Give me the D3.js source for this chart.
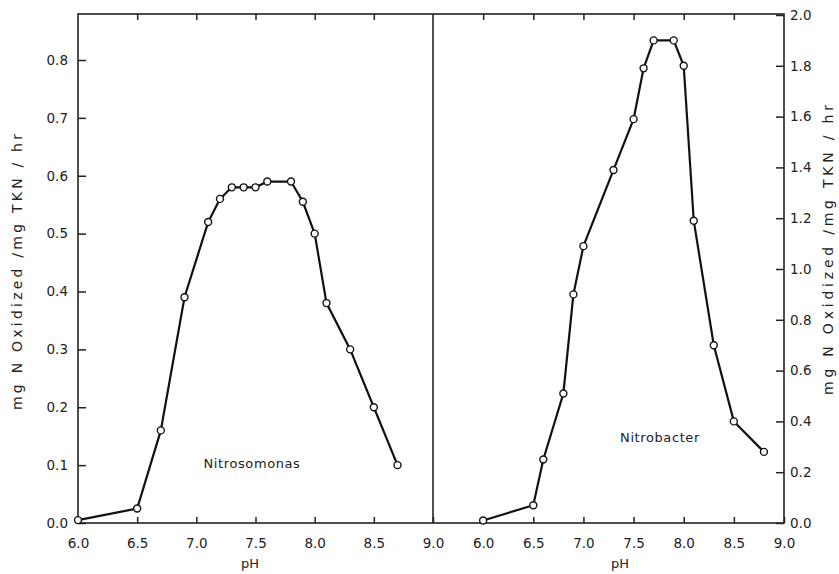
<!DOCTYPE html>
<html>
<head>
<meta charset="utf-8">
<script src="https://cdn.jsdelivr.net/npm/d3@7"></script>
<style>
  body { margin: 0; background: #fff; }
  text { font-family: "DejaVu Sans", sans-serif; fill: #222; }
</style>
</head>
<body>
<div id="chart"></div>
<script>
// Nitrosomonas (left panel)
let phLeft = [6.0, 6.5, 6.7, 6.9, 7.1, 7.2, 7.3, 7.4, 7.5, 7.6, 7.8, 7.9, 8.0, 8.1, 8.3, 8.5, 8.7];
let rateLeft = [0.005, 0.025, 0.16, 0.39, 0.52, 0.56, 0.58, 0.58, 0.58, 0.59, 0.59, 0.555, 0.50, 0.38, 0.30, 0.20, 0.10];

// Nitrobacter (right panel)
let phRight = [6.0, 6.5, 6.6, 6.8, 6.9, 7.0, 7.3, 7.5, 7.6, 7.7, 7.9, 8.0, 8.1, 8.3, 8.5, 8.8];
let rateRight = [0.01, 0.07, 0.25, 0.51, 0.90, 1.09, 1.39, 1.59, 1.79, 1.90, 1.90, 1.80, 1.19, 0.70, 0.40, 0.28];

let xTicksLeft = [6.0, 6.5, 7.0, 7.5, 8.0, 8.5, 9.0];
let xTicksRight = [6.0, 6.5, 7.0, 7.5, 8.0, 8.5, 9.0];
let yTicksLeft = [0, 0.1, 0.2, 0.3, 0.4, 0.5, 0.6, 0.7, 0.8];
let yTicksRight = [0, 0.2, 0.4, 0.6, 0.8, 1.0, 1.2, 1.4, 1.6, 1.8, 2.0];

let width = 839, height = 574;
let frameTop = 14, frameBottom = 523, frameLeft = 78, frameMid = 433, frameRight = 784;

let svg = d3.select("#chart").append("svg")
  .attr("width", width)
  .attr("height", height);

let xL = d3.scaleLinear().domain([6, 9]).range([frameLeft, frameMid]);
let xR = d3.scaleLinear().domain([5.5, 9]).range([frameMid, frameRight]);
let yL = d3.scaleLinear().domain([0, 0.8]).range([frameBottom, 60]);
let yR = d3.scaleLinear().domain([0, 2]).range([frameBottom, 15]);

let fmt = d3.format(".1f");

function styleAxis(g) {
  g.select(".domain").remove();
  g.selectAll(".tick line").attr("stroke", "#222").attr("stroke-width", 1.5);
  g.selectAll(".tick text").attr("font-size", 13.5).attr("fill", "#222")
    .attr("font-family", "DejaVu Sans, sans-serif");
}

// frame
svg.append("rect")
  .attr("x", frameLeft).attr("y", frameTop)
  .attr("width", frameRight - frameLeft).attr("height", frameBottom - frameTop)
  .attr("fill", "none").attr("stroke", "#222").attr("stroke-width", 1.6);
svg.append("line")
  .attr("x1", frameMid).attr("x2", frameMid).attr("y1", frameTop).attr("y2", frameBottom)
  .attr("stroke", "#222").attr("stroke-width", 1.6);

// axes
svg.append("g").attr("transform", "translate(" + frameLeft + ",0)")
  .call(d3.axisLeft(yL).tickValues(yTicksLeft).tickFormat(fmt).tickSize(-8).tickPadding(10).tickSizeOuter(0))
  .call(styleAxis);

svg.append("g").attr("transform", "translate(" + frameRight + ",0)")
  .call(d3.axisRight(yR).tickValues(yTicksRight).tickFormat(fmt).tickSize(-8).tickPadding(6).tickSizeOuter(0))
  .call(styleAxis);

svg.append("g").attr("transform", "translate(0," + frameBottom + ")")
  .call(d3.axisBottom(xL).tickValues(xTicksLeft).tickFormat(fmt).tickSize(-6).tickPadding(15).tickSizeOuter(0))
  .call(styleAxis);

svg.append("g").attr("transform", "translate(0," + frameBottom + ")")
  .call(d3.axisBottom(xR).tickValues(xTicksRight).tickFormat(fmt).tickSize(-6).tickPadding(15).tickSizeOuter(0))
  .call(styleAxis);

svg.append("g").attr("transform", "translate(0," + frameTop + ")")
  .call(d3.axisTop(xL).tickValues(xTicksLeft.slice(1, -1)).tickFormat("").tickSize(-6).tickSizeOuter(0))
  .call(styleAxis);

svg.append("g").attr("transform", "translate(0," + frameTop + ")")
  .call(d3.axisTop(xR).tickValues(xTicksRight.slice(0, -1)).tickFormat("").tickSize(-6).tickSizeOuter(0))
  .call(styleAxis);

// axis titles
svg.append("text").attr("x", 250).attr("y", 568)
  .attr("text-anchor", "middle").attr("font-size", 13).text("pH");
svg.append("text").attr("x", 620).attr("y", 568)
  .attr("text-anchor", "middle").attr("font-size", 13).text("pH");

svg.append("text")
  .attr("transform", "translate(22,272) rotate(-90)")
  .attr("text-anchor", "middle").attr("font-size", 14)
  .attr("textLength", 276).attr("lengthAdjust", "spacing")
  .text("mg N Oxidized /mg TKN / hr");

svg.append("text")
  .attr("transform", "translate(833,250) rotate(-90)")
  .attr("text-anchor", "middle").attr("font-size", 14)
  .attr("textLength", 290).attr("lengthAdjust", "spacing")
  .text("mg N Oxidized /mg TKN / hr");

// curves
function drawSeries(xs, ys, x, y) {
  let pts = xs.map(function (d, i) { return [d, ys[i]]; });
  let line = d3.line()
    .x(function (d) { return x(d[0]); })
    .y(function (d) { return y(d[1]); });
  svg.append("path").datum(pts)
    .attr("d", line)
    .attr("fill", "none").attr("stroke", "#111").attr("stroke-width", 2.2);
  svg.append("g").selectAll("circle").data(pts).enter().append("circle")
    .attr("cx", function (d) { return x(d[0]); })
    .attr("cy", function (d) { return y(d[1]); })
    .attr("r", 3.5)
    .attr("fill", "#fff").attr("stroke", "#111").attr("stroke-width", 1.4);
}

drawSeries(phLeft, rateLeft, xL, yL);
drawSeries(phRight, rateRight, xR, yR);

svg.append("text").attr("x", 252).attr("y", 468)
  .attr("text-anchor", "middle").attr("font-size", 13)
  .attr("letter-spacing", 0.6).text("Nitrosomonas");
svg.append("text").attr("x", 660).attr("y", 442)
  .attr("text-anchor", "middle").attr("font-size", 13)
  .attr("letter-spacing", 0.6).text("Nitrobacter");
</script>
</body>
</html>
